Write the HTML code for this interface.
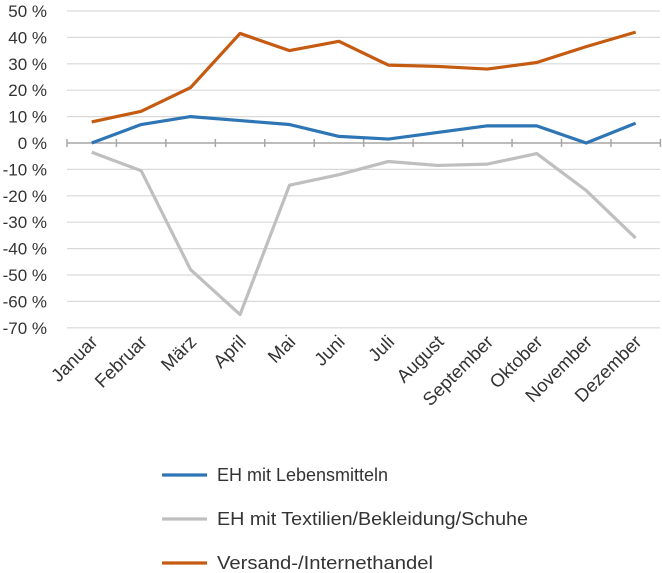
<!DOCTYPE html>
<html><head><meta charset="utf-8"><style>
body{margin:0;background:#fff;}
svg{display:block;font-family:"Liberation Sans",sans-serif;}
</style></head><body>
<svg id="chart" width="662" height="573"></svg>
<script>
const categories=["Januar","Februar","März","April","Mai","Juni","Juli","August","September","Oktober","November","Dezember"];
const lebensmittel=[0,7,10,8.5,7,2.5,1.5,4,6.5,6.5,0,7.5];
const textilien=[-3.5,-10.5,-48,-65,-16,-12,-7,-8.5,-8,-4,-18,-36];
const versand=[8,12,21,41.5,35,38.5,29.5,29,28,30.5,36.5,42];
const yTicks=[50,40,30,20,10,0,-10,-20,-30,-40,-50,-60,-70];
const seriesNames=["EH mit Lebensmitteln","EH mit Textilien/Bekleidung/Schuhe","Versand-/Internethandel"];
const colors=["#2e75b6","#bfbfbf","#c55a11"];
const legendWidths=[171,311,216];
const NS="http://www.w3.org/2000/svg";
const svg=document.getElementById("chart");
const x=i=>91.7+i*49.45;
const y=v=>143-v*2.64;
function mk(t,a){const e=document.createElementNS(NS,t);for(const k in a)e.setAttribute(k,a[k]);svg.appendChild(e);return e;}
yTicks.forEach(v=>{
if(v!==0){
const g=mk("line",{x1:67,x2:660,y1:y(v),y2:y(v),stroke:"#d9d9d9","stroke-width":1.2});


}
const t=mk("text",{x:47,y:y(v)+6,"text-anchor":"end","font-size":"17",fill:"#333"});


t.textContent=v+" %";
});
const ax=mk("line",{x1:67,x2:660,y1:y(0),y2:y(0),stroke:"#a6a6a6","stroke-width":1.5});


for(let i=0;i<=categories.length;i++){
const tx=x(i)-24.7;
const tk=mk("line",{x1:tx,x2:tx,y1:y(0)-4,y2:y(0)+4,stroke:"#a6a6a6","stroke-width":1.5});


}
categories.forEach((c,i)=>{
const ex=x(i)+7, ey=343;
const t=mk("text",{x:ex,y:ey,"text-anchor":"end","font-size":"18.5",fill:"#333",transform:`rotate(-45 ${ex} ${ey})`});


t.textContent=c;
});
[lebensmittel,textilien,versand].forEach((s,k)=>{
const p=mk("polyline",{points:s.map((v,i)=>x(i)+","+y(v)).join(" "),fill:"none",stroke:colors[k],"stroke-width":3.2,"stroke-linejoin":"round"});


const ly=475+k*44;
const l=mk("line",{x1:162,x2:207,y1:ly,y2:ly,stroke:colors[k],"stroke-width":3.2});


const t=mk("text",{x:217,y:ly+6,"font-size":"18",fill:"#333",textLength:legendWidths[k],lengthAdjust:"spacingAndGlyphs"});


t.textContent=seriesNames[k];
});
</script>
</body></html>
